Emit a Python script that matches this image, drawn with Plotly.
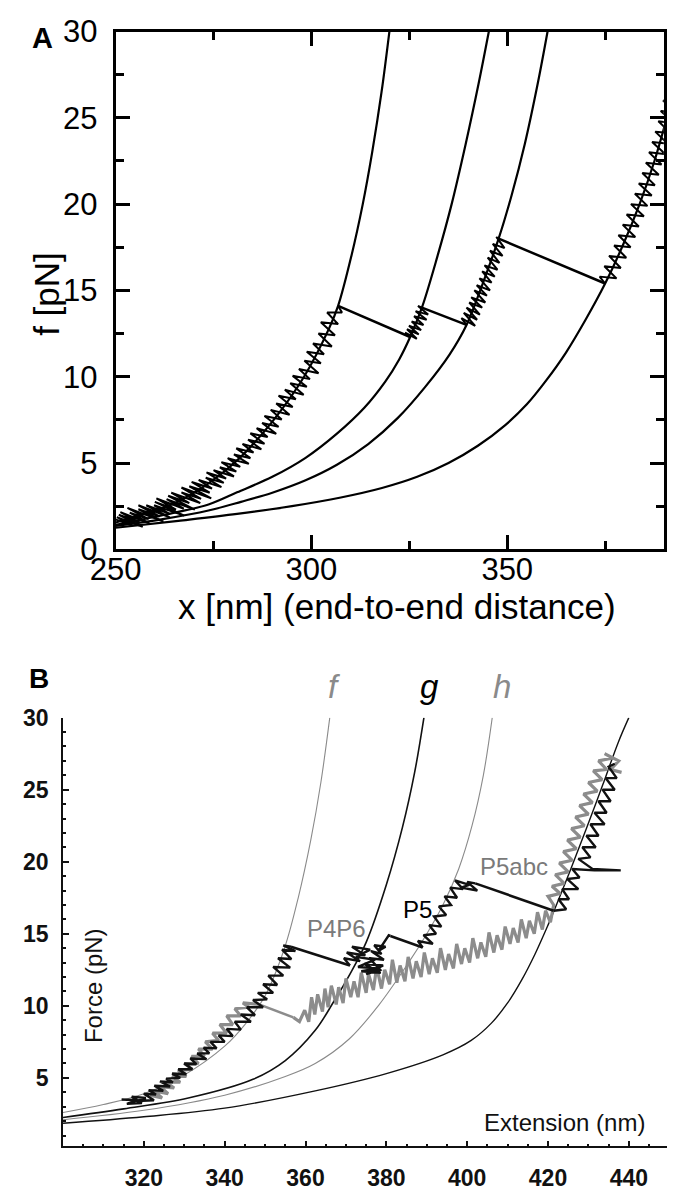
import plotly.graph_objects as go

# ---------------- Panel A data ----------------
A_c1_x = [250, 256.5, 265.3, 273.6, 281.7, 290, 298.1, 304.5, 306.8, 310.2, 313.1, 315.5, 317.9, 319.9]
A_c1_f = [1.55, 2.0, 2.7, 3.8, 5.3, 7.4, 10.0, 12.8, 14.1, 17.0, 20.0, 23.0, 26.5, 30.0]
A_c2_x = [250, 262.5, 273.7, 281, 290, 298.5, 306.5, 313.5, 318.8, 322.4, 325.2, 328.2, 332.2, 335.8, 339.4, 342.7, 345.3]
A_c2_f = [1.42, 2.0, 2.6, 3.3, 4.2, 5.3, 6.7, 8.2, 9.7, 11.0, 12.3, 14.0, 17.0, 20.0, 23.5, 27.0, 30.0]
A_c3_x = [250, 262, 273.7, 282, 290, 298.5, 306.5, 314.5, 322, 329, 335.3, 339.6, 343.9, 347.8, 351.1, 354.5, 357.8, 360.3]
A_c3_f = [1.35, 1.75, 2.25, 2.75, 3.28, 4.0, 4.9, 6.1, 7.6, 9.4, 11.3, 13.0, 15.5, 18.0, 20.5, 23.5, 27.0, 30.0]
A_c4_x = [250, 266, 281, 295, 307.5, 318, 327, 335, 342.5, 349.5, 355, 360, 365, 370, 375, 379.5, 383.8, 387.6, 391]
A_c4_f = [1.25, 1.65, 2.05, 2.5, 3.0, 3.55, 4.2, 5.0, 6.0, 7.2, 8.4, 9.8, 11.4, 13.3, 15.4, 17.6, 20.0, 22.5, 25.2]

A_s1_x = [248.6, 254.2, 250.3, 256.9, 250.8, 256.2, 251.2, 258.6, 253.6, 258.4, 253.0, 262.2, 255.8, 261.2, 255.8, 263.8,
          257.8, 263.8, 259.8, 267.5, 260.0, 265.4, 260.4, 267.4, 263.0, 270.2, 263.4, 268.8, 264.2, 271.6, 266.8, 271.8,
          266.8, 274.4, 268.8, 274.0, 269.4, 274.6, 271.2, 277.0, 273.0, 277.6, 273.2, 278.2, 275.0, 280.2, 276.6, 280.8,
          277.0, 281.8, 278.6, 284.0, 280.2, 284.4, 280.8, 285.2, 282.4, 287.2, 283.8, 288.0, 284.4, 288.8, 286.0, 291.0,
          287.4, 291.6, 288.0, 292.4, 289.6, 294.4, 291.0, 295.2, 291.6, 296.0, 293.2, 298.0, 294.6, 298.8, 295.2, 299.6,
          296.8, 301.8, 298.2, 302.4, 298.8, 303.2, 300.4, 305.2, 301.8, 306.0, 302.4, 306.8, 304.0, 307.8, 306.8]
A_s1_f = [1.84, 1.38, 1.86, 1.30, 2.00, 1.55, 2.15, 1.50, 2.12, 1.75, 2.40, 1.60, 2.32, 1.90, 2.55, 1.85,
          2.55, 2.05, 2.55, 1.95, 2.75, 2.30, 2.95, 2.35, 2.90, 2.30, 3.10, 2.68, 3.28, 2.68, 3.30, 2.92,
          3.58, 2.95, 3.65, 3.28, 3.90, 3.52, 4.02, 3.60, 4.15, 3.85, 4.45, 4.10, 4.58, 4.22, 4.75, 4.50,
          5.05, 4.78, 5.28, 4.95, 5.50, 5.28, 5.85, 5.60, 6.10, 5.80, 6.35, 6.12, 6.72, 6.50, 7.02, 6.70,
          7.32, 7.10, 7.72, 7.52, 8.08, 7.80, 8.45, 8.25, 8.90, 8.70, 9.25, 8.95, 9.62, 9.42, 10.05, 9.86,
          10.45, 10.20, 10.92, 10.78, 11.45, 11.30, 11.92, 11.75, 12.50, 12.40, 13.15, 13.05, 13.72, 13.72, 14.10]
A_s2_x = [325.2, 323.9, 326.9, 324.4, 327.4, 324.9, 328.0, 325.6, 328.6, 326.2, 329.4, 326.6, 329.8, 327.2, 328.2]
A_s2_f = [12.3, 12.55, 12.2, 12.75, 12.45, 12.95, 12.7, 13.2, 13.0, 13.5, 13.3, 13.8, 13.6, 14.1, 14.0]
A_s3_x = [339.6, 338.3, 341.8, 338.9, 342.3, 339.6, 343.0, 340.3, 343.6, 340.8, 344.4, 341.6, 344.8, 342.2, 345.6,
          342.9, 346.0, 343.6, 346.8, 344.2, 347.5, 345.0, 348.0, 345.6, 348.8, 346.3, 349.3, 347.2, 347.8]
A_s3_f = [13.0, 13.4, 12.95, 13.7, 13.3, 14.0, 13.6, 14.3, 14.0, 14.6, 14.3, 15.0, 14.7, 15.3, 15.0,
          15.7, 15.45, 16.1, 15.8, 16.45, 16.2, 16.9, 16.6, 17.3, 17.0, 17.7, 17.45, 18.1, 18.0]
A_s4_x = [375.0, 373.6, 377.9, 374.8, 379.0, 376.0, 380.4, 377.3, 381.5, 378.4, 382.7, 379.5, 383.6, 380.5, 384.9,
          381.6, 385.8, 382.6, 386.9, 383.6, 387.7, 384.5, 388.7, 385.4, 389.4, 386.2, 390.4, 387.0, 391.0, 387.8,
          391.8, 388.6, 392.5, 389.2, 393.0, 389.8, 393.6]
A_s4_f = [15.4, 15.8, 15.7, 16.4, 16.3, 17.0, 16.9, 17.6, 17.5, 18.2, 18.1, 18.8, 18.7, 19.4, 19.3,
          20.0, 19.9, 20.6, 20.5, 21.2, 21.1, 21.8, 21.7, 22.4, 22.3, 23.0, 22.9, 23.6, 23.5, 24.2,
          24.1, 24.8, 24.7, 25.4, 25.3, 26.0, 25.9]
A_rip_x = [[306.8, 325.2], [328.2, 339.6], [347.8, 375.0]]
A_rip_f = [[14.1, 12.3], [14.0, 13.0], [18.0, 15.4]]

A_xticks = [250, 300, 350]
A_yticks = [0, 5, 10, 15, 20, 25, 30]

# ---------------- Panel B data ----------------
B_f_x = [300, 310, 320, 330, 340, 345, 350, 354.8, 358.2, 361.3, 363.8, 366]
B_f_f = [2.6, 3.15, 3.9, 5.2, 7.2, 8.7, 10.7, 14.0, 17.5, 21.5, 25.5, 30.0]
B_g_x = [300, 315, 331, 347, 355, 362.4, 367, 371, 375, 380, 384, 387, 389.3]
B_g_f = [2.25, 2.85, 3.6, 4.9, 6.2, 8.3, 10.3, 12.2, 14.4, 18.4, 22.4, 26.2, 30.0]
B_h_x = [300, 320, 340, 355, 362.4, 370.8, 378, 385.5, 389.8, 394, 397.9, 401.2, 404, 406.2]
B_h_f = [2.1, 2.75, 3.8, 5.1, 6.0, 7.7, 10.0, 13.0, 14.9, 17.0, 19.5, 22.5, 26.0, 30.0]
B_u_x = [300, 320, 340, 362.4, 380, 394, 401, 406, 410, 413.5, 416.8, 420, 421.5, 425.5, 429.5, 433.5, 437.4, 440]
B_u_f = [1.85, 2.3, 2.9, 4.1, 5.3, 6.6, 7.6, 8.8, 10.2, 11.8, 13.6, 15.6, 16.6, 19.4, 22.3, 25.3, 28.3, 30.0]

# black trace (first pull), as (x, f) points per segment
B_blk1 = [(314.5, 3.5), (318.5, 3.45), (315.8, 3.2), (319.5, 3.25), (317.0, 3.7), (320.5, 3.6), (318.2, 3.4),
          (322.5, 3.45), (320.0, 3.9), (323.0, 3.85), (321.2, 4.15), (324.8, 4.1), (322.6, 4.45), (326.5, 4.4),
          (324.0, 4.75), (327.2, 4.7), (325.5, 4.95), (329.0, 5.0), (327.0, 5.3), (330.5, 5.25), (328.5, 5.6),
          (332.0, 5.6), (330.0, 6.0), (333.0, 5.95), (331.5, 6.35), (335.5, 6.3), (333.2, 6.7), (336.2, 6.7),
          (334.8, 7.1), (338.0, 7.05), (336.5, 7.5), (340.0, 7.5), (338.5, 7.95), (342.0, 7.9), (340.5, 8.4),
          (344.0, 8.35), (342.5, 8.9), (346.5, 8.9), (344.0, 9.4), (347.5, 9.35), (345.5, 9.9), (349.5, 9.9),
          (347.0, 10.4), (350.5, 10.45), (348.2, 10.9), (352.0, 10.9), (349.5, 11.5), (353.0, 11.45),
          (350.8, 12.1), (354.5, 12.1), (352.0, 12.7), (356.2, 12.65), (353.2, 13.3), (356.5, 13.25),
          (354.2, 13.9), (357.5, 13.8), (354.5, 14.2), (356.4, 14.1)]
B_blk2 = [(371.0, 12.8), (369.5, 13.3), (373.5, 13.1), (370.2, 13.7), (374.8, 13.5), (371.5, 14.1), (376.0, 13.9),
          (372.5, 13.4), (377.2, 13.2), (373.0, 12.7), (377.8, 12.6), (373.8, 12.4), (378.6, 12.3), (374.5, 12.9),
          (379.2, 12.8), (375.0, 12.2), (378.5, 12.5), (375.8, 13.3), (379.4, 13.2), (376.2, 13.8), (378.8, 13.6),
          (377.0, 14.2), (379.8, 14.1), (378.0, 13.8), (380.6, 14.9), (381.0, 14.85)]
B_blk3 = [(389.0, 14.05), (387.8, 14.5), (391.5, 14.3), (389.2, 14.9), (392.3, 15.0), (390.6, 15.6), (393.6, 15.5),
          (391.8, 16.2), (394.8, 16.3), (393.0, 16.9), (396.0, 17.0), (394.4, 17.6), (397.5, 17.5), (395.8, 18.2),
          (399.0, 18.1), (397.0, 18.7), (400.5, 18.4), (398.5, 18.2), (402.5, 18.0), (400.0, 18.6), (402.0, 18.5)]
B_blk4 = [(421.4, 16.6), (424.5, 16.7), (422.6, 17.4), (425.2, 17.4), (423.5, 18.1), (427.5, 18.1), (424.8, 18.8),
          (427.8, 18.9), (426.0, 19.5), (431.5, 19.4), (438.0, 19.4), (431.0, 19.5), (427.5, 20.2), (430.5, 20.3),
          (428.5, 21.0), (431.8, 21.0), (429.5, 21.8), (432.5, 21.8), (430.5, 22.6), (434.0, 22.6), (431.5, 23.4),
          (434.5, 23.4), (432.5, 24.2), (435.5, 24.2), (433.5, 25.0), (436.5, 25.0), (434.3, 25.8), (437.0, 25.8),
          (435.0, 26.6), (436.5, 26.8)]

# gray trace (second pull)
B_gray1 = [(321.5, 3.8), (324.5, 3.6), (322.5, 4.1), (326.0, 3.9), (324.0, 4.4), (327.5, 4.3), (325.5, 4.7),
           (329.0, 4.7), (327.0, 5.1), (330.5, 5.1), (328.5, 5.5), (332.0, 5.6), (330.0, 6.0), (333.5, 6.0),
           (331.8, 6.5), (335.0, 6.5), (333.5, 7.0), (337.0, 7.0), (335.2, 7.5), (338.5, 7.6), (337.0, 8.1),
           (340.5, 8.1), (338.8, 8.7), (342.0, 8.7), (340.5, 9.3), (344.0, 9.3), (342.5, 9.8), (346.0, 9.9),
           (344.5, 10.2), (348.5, 10.1)]
B_gray_slip = [(348.5, 10.1), (357.0, 9.2)]
B_gray2 = [(357.0, 9.2), (358.5, 8.9), (359.8, 9.7), (360.8, 8.9), (361.5, 10.6), (362.3, 9.4), (363.0, 10.8),
           (364.2, 9.6), (364.8, 11.2), (365.6, 9.9), (366.4, 11.4), (367.6, 10.1), (368.2, 11.3), (369.3, 10.2),
           (370.0, 11.9), (371.2, 10.6), (372.0, 11.7), (373.0, 10.6), (373.8, 12.3), (375.0, 10.9), (375.6, 12.2),
           (376.8, 11.1), (377.6, 12.7), (378.8, 11.2), (379.6, 12.5), (380.8, 11.5), (381.5, 13.2), (382.6, 11.6),
           (383.4, 12.8), (384.6, 11.7), (385.4, 13.4), (386.6, 11.9), (387.4, 13.1), (388.6, 12.0), (389.4, 13.7),
           (390.6, 12.2), (391.4, 13.3), (392.6, 12.3), (393.4, 14.0), (394.6, 12.5), (395.4, 13.6), (396.6, 12.6),
           (397.4, 14.3), (398.6, 12.9), (399.4, 14.0), (400.6, 13.0), (401.4, 14.7), (402.6, 13.3), (403.4, 14.4),
           (404.6, 13.4), (405.4, 15.1), (406.6, 13.7), (407.4, 14.9), (408.6, 13.9), (409.4, 15.5), (410.6, 14.3),
           (411.4, 15.4), (412.6, 14.4), (413.4, 16.0), (414.6, 14.7), (415.4, 15.9), (416.6, 15.0), (417.4, 16.5),
           (418.6, 15.3), (419.4, 16.6), (420.6, 15.8), (421.4, 17.0),
           (420.0, 17.6), (423.0, 17.8), (421.0, 18.3), (424.0, 18.5), (421.8, 19.1), (425.0, 19.3), (422.8, 19.9),
           (426.0, 20.1), (423.8, 20.7), (427.0, 20.9), (424.8, 21.5), (428.0, 21.7), (425.8, 22.3), (429.0, 22.5),
           (426.8, 23.1), (430.0, 23.3), (427.8, 23.9), (431.0, 24.1), (428.8, 24.7), (432.2, 24.9), (430.0, 25.5),
           (433.4, 25.7), (431.2, 26.3), (434.5, 26.4), (432.5, 27.0), (436.0, 27.2), (434.0, 27.5), (437.5, 27.0),
           (435.5, 26.4), (438.2, 26.2)]
B_rip_x = [[356.4, 371.0], [381.0, 389.0], [402.0, 421.4]]
B_rip_f = [[14.1, 12.8], [14.85, 14.05], [18.5, 16.6]]

B_xticks = [320, 340, 360, 380, 400, 420, 440]
B_yticks = [5, 10, 15, 20, 25, 30]

B_curve_labels = ["f", "g", "h"]
B_curve_label_x = [367.1, 390.7, 408.6]
B_curve_label_col = ["#8a8a8a", "#000000", "#8a8a8a"]
B_event_labels = ["P4P6", "P5", "P5abc"]
B_event_x = [367.7, 387.6, 411.5]
B_event_f = [15.4, 16.7, 19.7]
B_event_col = ["#7a7a7a", "#000000", "#7a7a7a"]

W, H = 673, 1199
fig = go.Figure()


def line(x, y, xa, ya, color, width, shape="linear"):
    fig.add_trace(go.Scatter(x=x, y=y, mode="lines", line=dict(color=color, width=width, shape=shape),
                             xaxis=xa, yaxis=ya, showlegend=False, hoverinfo="skip"))


def pts(p, xa, ya, color, width):
    line([q[0] for q in p], [q[1] for q in p], xa, ya, color, width)


# Panel A
for cx, cf in [(A_c1_x, A_c1_f), (A_c2_x, A_c2_f), (A_c3_x, A_c3_f), (A_c4_x, A_c4_f)]:
    line(cx, cf, "x", "y", "black", 2.2, "spline")
for sx, sf in [(A_s1_x, A_s1_f), (A_s2_x, A_s2_f), (A_s3_x, A_s3_f), (A_s4_x, A_s4_f)]:
    line(sx, sf, "x", "y", "black", 2.0)
for rx, rf in zip(A_rip_x, A_rip_f):
    line(rx, rf, "x", "y", "black", 2.5)

# Panel B
for cx, cf, col, wd in [(B_f_x, B_f_f, "#8a8a8a", 1.1), (B_g_x, B_g_f, "#111111", 1.6),
                        (B_h_x, B_h_f, "#8a8a8a", 1.1), (B_u_x, B_u_f, "#111111", 1.4)]:
    line(cx, cf, "x2", "y2", col, wd, "spline")
pts(B_gray1, "x2", "y2", "#8c8c8c", 3.2)
pts(B_gray_slip, "x2", "y2", "#8c8c8c", 2.6)
pts(B_gray2, "x2", "y2", "#8c8c8c", 3.2)
for seg in [B_blk1, B_blk2, B_blk3, B_blk4]:
    pts(seg, "x2", "y2", "#111111", 2.4)
for rx, rf in zip(B_rip_x, B_rip_f):
    line(rx, rf, "x2", "y2", "#111111", 2.6)

fA = "Liberation Sans"
axA = dict(showline=True, linecolor="black", linewidth=3, mirror="ticks", ticks="inside",
           tickcolor="black", tickwidth=3, ticklen=14, showgrid=False, zeroline=False,
           tickfont=dict(family=fA, size=31, color="black"))
axB = dict(showline=True, linecolor="#111111", linewidth=1.6, ticks="inside", tickcolor="#111111",
           tickwidth=1.5, ticklen=6, showgrid=False, zeroline=False,
           tickfont=dict(family=fA, size=23, color="#111111", weight="bold"))

fig.update_layout(
    width=W, height=H, margin=dict(l=0, r=0, t=0, b=0),
    paper_bgcolor="white", plot_bgcolor="white", showlegend=False,
    xaxis=dict(axA, domain=[93.3 / W, 663.5 / W], range=[250, 390], anchor="y",
               tickvals=A_xticks, ticklabelstandoff=-9,
               minor=dict(tick0=250, dtick=25, ticks="inside", ticklen=8, tickwidth=3, tickcolor="black")),
    yaxis=dict(axA, domain=[1 - 548.3 / H, 1 - 15 / H], range=[0, 30], anchor="x",
               tickvals=A_yticks, ticklabelstandoff=9,
               minor=dict(tick0=0, dtick=2.5, ticks="inside", ticklen=8, tickwidth=3, tickcolor="black")),
    xaxis2=dict(axB, domain=[38.5 / W, 667 / W], range=[300, 449.5], anchor="y2",
                tickvals=B_xticks, ticklabelstandoff=10,
                minor=dict(tick0=300, dtick=5, ticks="inside", ticklen=3, tickwidth=1.5, tickcolor="#111111")),
    yaxis2=dict(axB, domain=[1 - 1163.3 / H, 1 - 721.7 / H], range=[0.25, 30], anchor="x2",
                tickvals=B_yticks, ticklabelstandoff=8,
                minor=dict(tick0=0, dtick=1, ticks="inside", ticklen=3, tickwidth=1.5, tickcolor="#111111")),
)

ann = [
    dict(text="<b>A</b>", x=17.5 / W, y=1 - 22 / H, xref="paper", yref="paper", showarrow=False,
         font=dict(family=fA, size=29, color="black"), xanchor="center", yanchor="middle"),
    dict(text="<b>B</b>", x=14 / W, y=1 - 681 / H, xref="paper", yref="paper", showarrow=False,
         font=dict(family=fA, size=28, color="black"), xanchor="center", yanchor="middle"),
    dict(text="x [nm] (end-to-end distance)", x=386 / W, y=1 - 607 / H, xref="paper", yref="paper",
         showarrow=False, font=dict(family=fA, size=35, color="black"), xanchor="center", yanchor="middle"),
    dict(text="f [pN]", x=22 / W, y=1 - 285 / H, xref="paper", yref="paper", textangle=-90,
         showarrow=False, font=dict(family=fA, size=35, color="black"), xanchor="center", yanchor="middle"),
    dict(text="Force (pN)", x=71 / W, y=1 - 998 / H, xref="paper", yref="paper", textangle=-90,
         showarrow=False, font=dict(family=fA, size=24, color="#111111"), xanchor="center", yanchor="middle"),
    dict(text="Extension (nm)", x=560.5 / W, y=1 - 1139 / H, xref="paper", yref="paper",
         showarrow=False, font=dict(family=fA, size=24, color="#111111"), xanchor="center", yanchor="middle"),
]
for t, xv, c in zip(B_curve_labels, B_curve_label_x, B_curve_label_col):
    ann.append(dict(text="<i>" + t + "</i>", x=xv, y=1 - 690 / H, xref="x2", yref="paper", showarrow=False,
                    font=dict(family=fA, size=33, color=c), xanchor="center", yanchor="middle"))
for t, xv, fv, c in zip(B_event_labels, B_event_x, B_event_f, B_event_col):
    ann.append(dict(text=t, x=xv, y=fv, xref="x2", yref="y2", showarrow=False,
                    font=dict(family=fA, size=24, color=c), xanchor="center", yanchor="middle"))
fig.update_layout(annotations=ann)

fig.write_html("out.html", config={"displayModeBar": False},
               post_script="document.body.style.margin='0';document.body.style.overflow='hidden';")
